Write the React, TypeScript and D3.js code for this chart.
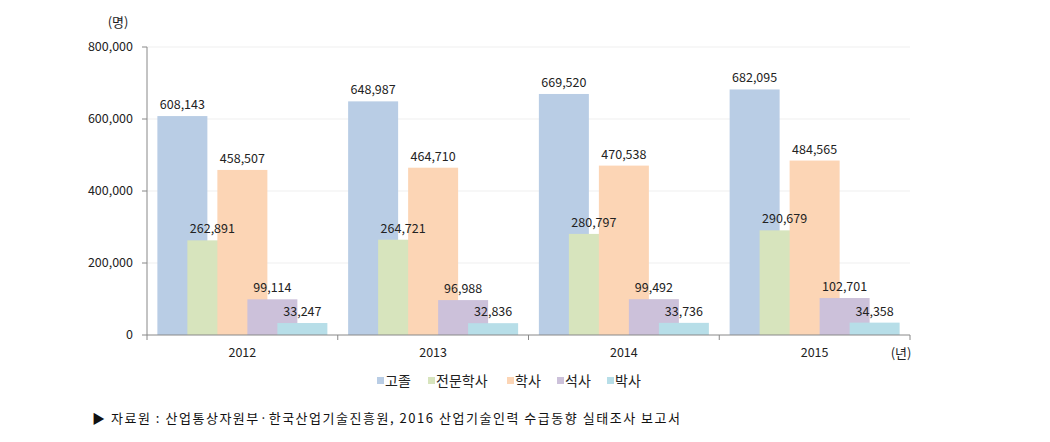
import React from "react";
import * as d3 from "d3";

const years = ["2012", "2013", "2014", "2015"];
const seriesNames = ["고졸", "전문학사", "학사", "석사", "박사"];
const colors = ["#B9CDE5", "#D7E4BD", "#FCD5B5", "#CCC1DA", "#B7DEE8"];
const goJol = [608143, 648987, 669520, 682095];
const junmun = [262891, 264721, 280797, 290679];
const haksa = [458507, 464710, 470538, 484565];
const seoksa = [99114, 96988, 99492, 102701];
const paksa = [33247, 32836, 33736, 34358];
const yTicks = [0, 200000, 400000, 600000, 800000];

const seriesValues = [goJol, junmun, haksa, seoksa, paksa];

const W = 1050;
const H = 442;
const left = 147;
const right = 910;
const top = 47;
const bottom = 335;
const font = "'Noto Sans CJK KR', 'Noto Sans', sans-serif";

export default function App() {
  const x = d3.scaleBand<string>().domain(years).range([left, right]);
  const y = d3.scaleLinear().domain([0, 800000]).range([bottom, top]);
  const fmt = d3.format(",");
  const barW = 50;
  const step = 30;
  const groupSpan = step * (seriesNames.length - 1) + barW;

  const legendX = [377, 428, 507, 557, 607];

  return (
    <svg width={W} height={H} style={{ position: "absolute", left: 0, top: 0, background: "#fff" }} fontFamily={font}>
      <rect x={0} y={0} width={W} height={H} fill="#fff" />
      {yTicks.map((t) => (
        <g key={t}>
          {t > 0 && (
            <line x1={left} x2={right} y1={y(t)} y2={y(t)} stroke="#EFEFEF" strokeWidth={1} />
          )}
          <line x1={left - 5} x2={left} y1={y(t)} y2={y(t)} stroke="#888" />
          <text x={left - 14} y={y(t)} dy="0.35em" textAnchor="end" fontSize={12.5} fill="#222">
            {fmt(t)}
          </text>
        </g>
      ))}
      <text x={118} y={22} dy="0.35em" textAnchor="middle" fontSize={13} fill="#222">(명)</text>
      {years.map((yr, gi) => {
        const x0 = (x(yr) as number) + (x.bandwidth() - groupSpan) / 2;
        return (
          <g key={yr}>
            {seriesValues.map((vals, si) => (
              <rect
                key={si}
                x={x0 + si * step}
                y={y(vals[gi])}
                width={barW}
                height={bottom - y(vals[gi])}
                fill={colors[si]}
              />
            ))}
          </g>
        );
      })}
      {years.map((yr, gi) => {
        const x0 = (x(yr) as number) + (x.bandwidth() - groupSpan) / 2;
        return (
          <g key={yr + "l"}>
            {seriesValues.map((vals, si) => (
              <text
                key={si}
                x={x0 + si * step + barW / 2}
                y={y(vals[gi]) - 7}
                textAnchor="middle"
                fontSize={12.5}
                fill="#222"
              >
                {fmt(vals[gi])}
              </text>
            ))}
          </g>
        );
      })}
      <line x1={left} x2={left} y1={top} y2={bottom} stroke="#888" />
      <line x1={left} x2={right} y1={bottom} y2={bottom} stroke="#888" />
      {[...years.map((yr) => x(yr) as number), right].map((px, i) => (
        <line key={i} x1={px} x2={px} y1={bottom} y2={bottom + 5} stroke="#888" />
      ))}
      {years.map((yr) => (
        <text key={yr} x={(x(yr) as number) + x.bandwidth() / 2} y={353} dy="0.35em" textAnchor="middle" fontSize={12.5} fill="#222">
          {yr}
        </text>
      ))}
      <text x={901} y={353} dy="0.35em" textAnchor="middle" fontSize={13} fill="#222">(년)</text>
      {seriesNames.map((n, i) => (
        <g key={n}>
          <rect x={legendX[i]} y={377} width={7} height={7} fill={colors[i]} />
          <text x={legendX[i] + 8} y={381} dy="0.35em" fontSize={14} fill="#222">{n}</text>
        </g>
      ))}
      <text x={92} y={418} dy="0.35em" fontSize={13} fill="#111" textLength={588} lengthAdjust="spacing">
        ▶ 자료원 : 산업통상자원부·한국산업기술진흥원, 2016 산업기술인력 수급동향 실태조사 보고서
      </text>
    </svg>
  );
}
